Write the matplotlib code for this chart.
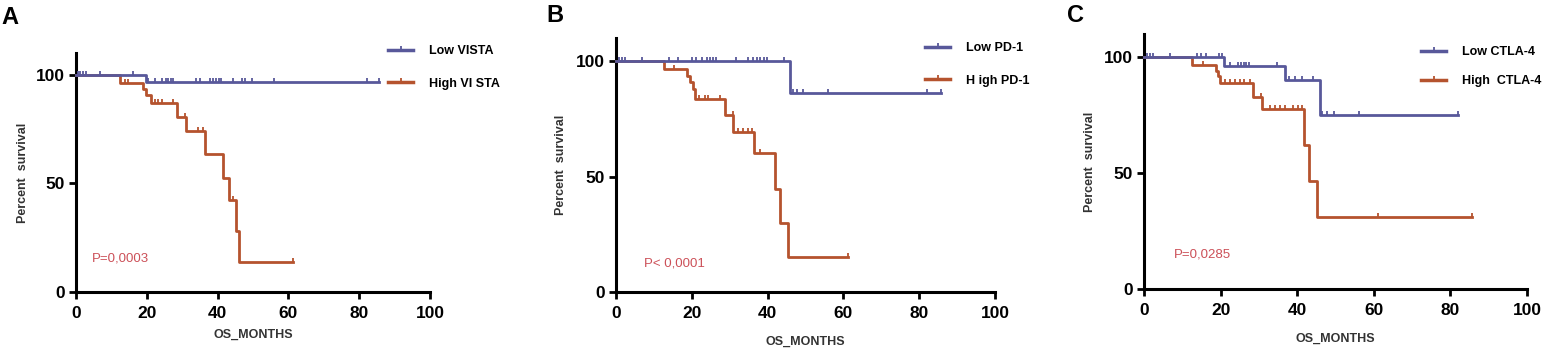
import numpy as np
import matplotlib
matplotlib.use("Agg")
import matplotlib.pyplot as plt
from matplotlib.lines import Line2D

plt.rcParams['font.family'] = ['Liberation Sans', 'DejaVu Sans']

# Panel A : VISTA
a_low_t = [0, 19.8, 85.5]
a_low_s = [100, 96.8, 96.8]
a_low_c = [0.5, 1.2, 2.0, 2.7, 6.8, 16.2, 20.3, 22.4, 24.4, 25.3, 26.0, 26.8, 27.5,
           33.8, 34.9, 37.9, 38.7, 39.5, 40.3, 41.1, 44.4, 46.8, 47.8, 49.7, 56.0, 82.1, 85.5]
a_high_t = [0, 12.5, 18.8, 19.8, 21.2, 28.4, 31.2, 36.5, 41.6, 43.3, 45.2, 46.0, 61.3]
a_high_s = [100, 96, 93.5, 90.5, 87, 80.5, 74, 63.5, 52.5, 42.5, 28, 14, 14]
a_high_c = [13.8, 14.8, 22.3, 23.3, 24.2, 27.5, 30.7, 34.6, 36.0, 44.3, 61.3]

# Panel B : PD-1
b_low_t = [0, 45.9, 85.7]
b_low_s = [100, 86, 86]
b_low_c = [0.7, 1.5, 2.3, 6.8, 14.1, 16.4, 20.0, 21.1, 22.6, 24.0, 24.8, 25.6, 26.5,
           31.7, 34.9, 36.2, 37.2, 38.1, 39.0, 39.9, 44.4, 46.8, 47.8, 49.4, 56.0, 82.0, 85.7]
b_high_t = [0, 12.7, 18.8, 19.6, 20.3, 20.9, 28.7, 31.0, 36.4, 41.9, 43.3, 45.5, 61.3]
b_high_s = [100, 96.4, 93.5, 91, 88, 83.5, 76.5, 69.5, 60, 44.4, 29.7, 15, 15]
b_high_c = [15.3, 22.0, 23.6, 24.4, 27.4, 30.8, 32.3, 33.6, 34.7, 35.8, 38.0, 61.3]

# Panel C : CTLA-4
c_low_t = [0, 20.8, 36.7, 45.9, 82.1]
c_low_s = [100, 96, 90, 75, 75]
c_low_c = [0.7, 1.5, 2.4, 6.8, 13.9, 15.0, 16.3, 19.6, 20.3, 22.5, 24.6, 25.3, 26.0,
           26.7, 27.5, 34.8, 37.8, 39.5, 41.2, 44.2, 46.6, 47.8, 49.7, 56.1, 82.1]
c_high_t = [0, 12.6, 18.7, 19.3, 19.9, 28.5, 30.8, 41.7, 43.2, 45.3, 85.6]
c_high_s = [100, 96.5, 94, 92, 89, 83, 77.8, 62, 46.5, 31, 31]
c_high_c = [15.5, 21.2, 22.5, 23.8, 25.0, 26.2, 27.6, 30.5, 33.0, 34.2, 35.5, 36.8,
            39.0, 40.3, 41.2, 61.2, 85.6]

letters = ['A', 'B', 'C']
low_labels = ['Low VISTA', 'Low PD-1', 'Low CTLA-4']
high_labels = ['High VI STA', 'H igh PD-1', 'High  CTLA-4']
p_texts = ['P=0,0003', 'P< 0,0001', 'P=0,0285']

blue = '#58589a'
red = '#b5532e'
pcol = '#cc5058'

W, H = 1553, 350
fig = plt.figure(figsize=(W / 100, H / 100), dpi=100)

# axes boxes in pixels: left, x100, y0, ytop
boxes = [(76, 430, 292, 53), (616, 995, 292, 38), (1144, 1527, 289, 34)]
p_pos = [(4.5, 15.5), (7.4, 12.5), (7.8, 15)]
letter_pos = [(10, 17), (555, 16), (1076, 16)]
legend_pos = [(388, 45), (925, 42), (1421, 46)]
legend_gap = [1.65, 1.65, 1.35]
ylab_x = [-0.132, -0.129, -0.126]
xlab_y = [-0.153, -0.174, -0.172]

data = [
    (a_low_t, a_low_s, a_low_c, a_high_t, a_high_s, a_high_c),
    (b_low_t, b_low_s, b_low_c, b_high_t, b_high_s, b_high_c),
    (c_low_t, c_low_s, c_low_c, c_high_t, c_high_s, c_high_c),
]


def km(ax, t, s, cens, col, z):
    t = np.array(t)
    s = np.array(s)
    ax.step(t, s, where='post', color=col, lw=2, zorder=z, clip_on=False)
    c = np.array(cens)
    cy = s[np.searchsorted(t, c, side='right') - 1]
    ax.plot(c, cy, ls='none', marker=2, ms=3, mew=1.3, color=col, zorder=z, clip_on=False)


for i in range(3):
    l, r, b0, tp = boxes[i]
    ax = fig.add_axes([l / W, (H - b0) / H, (r - l) / W, (b0 - tp) / H])
    lt, ls_, lc, ht, hs, hc = data[i]
    km(ax, ht, hs, hc, red, 3)
    km(ax, lt, ls_, lc, blue, 4)

    ax.set_xlim(0, 100)
    ax.set_ylim(0, 110)
    ax.set_xticks([0, 20, 40, 60, 80, 100])
    ax.set_yticks([0, 50, 100])
    for sp in ['top', 'right']:
        ax.spines[sp].set_visible(False)
    for sp in ['left', 'bottom']:
        ax.spines[sp].set_linewidth(2.2)
    ax.tick_params(length=5, width=2, labelsize=12.5)
    ax.tick_params(axis='x', pad=5)
    ax.tick_params(axis='y', pad=3)
    for lab in ax.get_xticklabels() + ax.get_yticklabels():
        lab.set_fontweight('bold')
    ax.set_xlabel('OS_MONTHS', fontsize=9, fontweight='bold', color='#333333')
    ax.set_ylabel('Percent  survival', fontsize=9, fontweight='bold', color='#333333')
    ax.yaxis.set_label_coords(ylab_x[i], 0.5)
    ax.xaxis.set_label_coords(0.5, xlab_y[i])

    ax.text(p_pos[i][0], p_pos[i][1], p_texts[i], color=pcol, fontsize=9.5, va='center')

    fig.text(letter_pos[i][0] / W, 1 - letter_pos[i][1] / H, letters[i],
             fontsize=17, fontweight='bold', ha='center', va='center')

    handles = [Line2D([0], [0], color=blue, lw=2.5, marker=2, ms=3, mew=1.3),
               Line2D([0], [0], color=red, lw=2.5, marker=2, ms=3, mew=1.3)]
    lx, ly = legend_pos[i]
    ax.legend(handles, [low_labels[i], high_labels[i]], loc='upper left',
              bbox_to_anchor=(lx / W, 1 - ly / H), bbox_transform=fig.transFigure,
              frameon=False, borderpad=0, borderaxespad=0, numpoints=1,
              handlelength=2.0, handletextpad=1.3, labelspacing=legend_gap[i],
              prop={'size': 9, 'weight': 'bold'})

fig.savefig('out.png', dpi=100)
